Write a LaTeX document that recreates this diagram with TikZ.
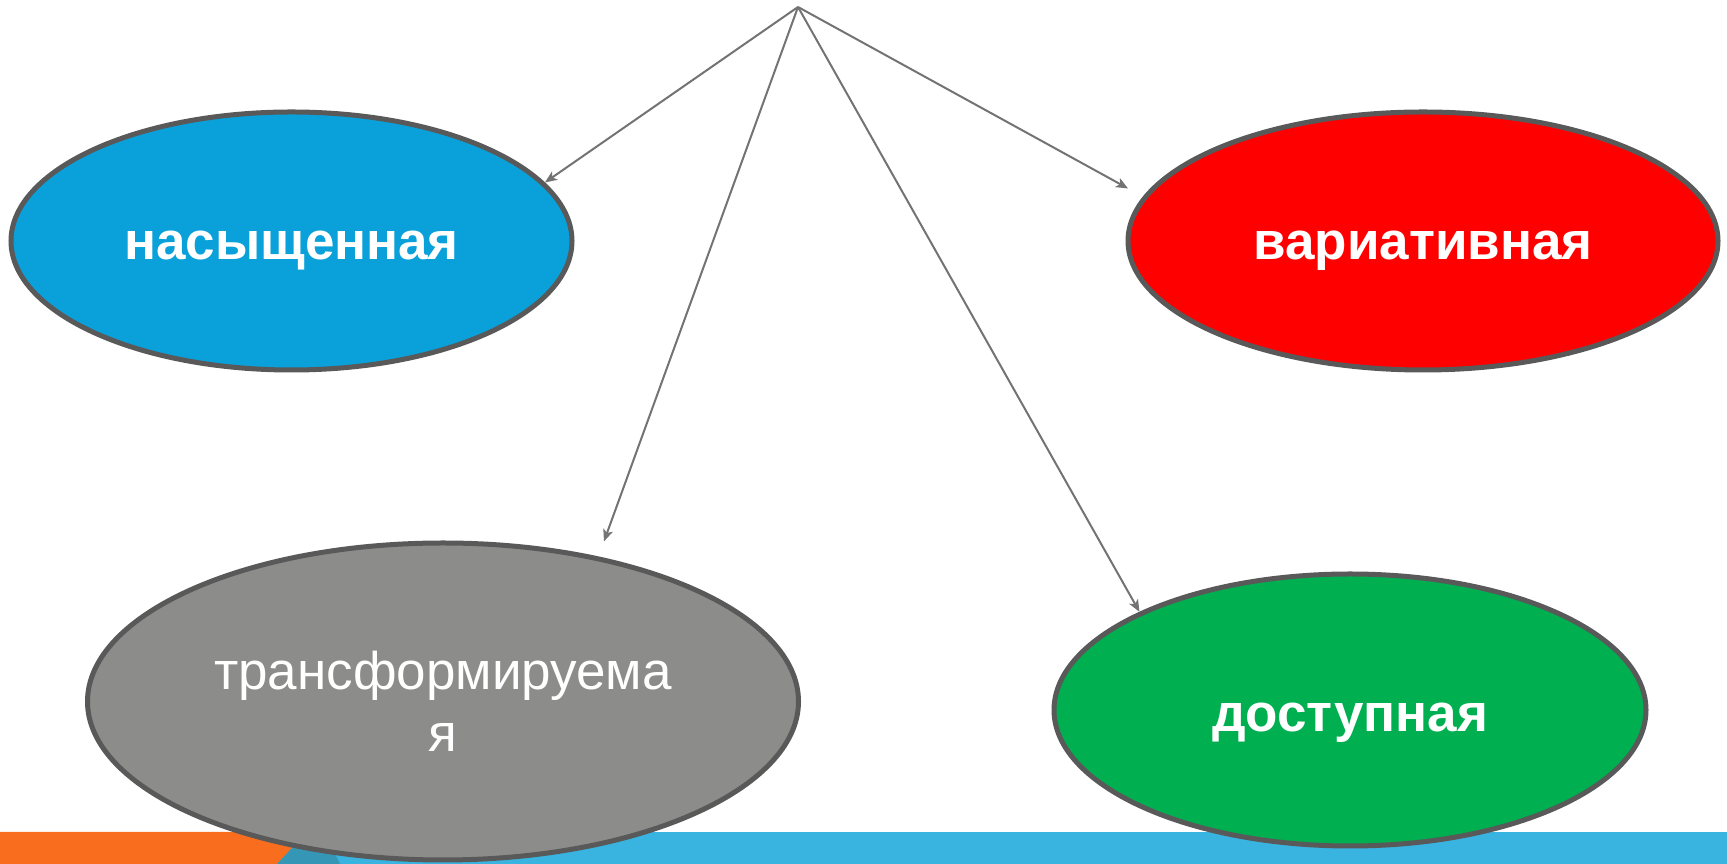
\documentclass[tikz,border=0pt]{standalone}
\usepackage{fontspec}
\setmainfont{Liberation Sans}
\usetikzlibrary{arrows.meta,shapes.geometric}

\definecolor{bubbleblue}{HTML}{0AA1DA}
\definecolor{bubblered}{HTML}{FF0000}
\definecolor{bubblegray}{HTML}{8C8C8A}
\definecolor{bubblegreen}{HTML}{00AF50}
\definecolor{rimgray}{HTML}{595959}
\definecolor{linkgray}{HTML}{737373}
\definecolor{stripblue}{HTML}{39B3E0}
\definecolor{striporange}{HTML}{F96D1E}
\definecolor{stripteal}{HTML}{3597B5}

\tikzset{
  bubble/.style={ellipse, draw=rimgray, line width=5pt, inner sep=0pt,
    text=white, font=\fontsize{53}{62}\selectfont},
  boldbubble/.style={bubble, font=\fontsize{53}{62}\selectfont\bfseries,
    text depth=10pt},
  link/.style={draw=linkgray, line width=2pt,
    -{Stealth[length=12pt,width=10pt,inset=3pt]}}
}

\begin{document}
\begin{tikzpicture}[x=1pt,y=1pt]
    \useasboundingbox (0,0) rectangle (1727,864);

    % Footer strip
    \fill[stripblue] (0,0) rectangle (1727,32);
    \fill[striporange] (0,0) -- (277,0) -- (307,32) -- (0,32) -- cycle;
    \fill[stripteal] (277,0) -- (340,0) -- (324,32) -- (307,32) -- cycle;

    % Bubbles
    \node[boldbubble, fill=bubbleblue, minimum width=561, minimum height=258, text height=48pt]
      (saturated) at (291.5,623) {насыщенная};
    \node[boldbubble, fill=bubblered, minimum width=590, minimum height=258, text height=48pt]
      (variable) at (1423,623) {вариативная};
    \node[bubble, fill=bubblegray, minimum width=711, minimum height=317, align=center]
      (transform) at (443,162.5) {трансформируема\\я};
    \node[boldbubble, fill=bubblegreen, minimum width=592, minimum height=272, text height=54pt]
      (access) at (1350,154) {доступная};

    % Links from the top
    \coordinate (apex) at (798,857);
    \draw[link] (apex) -- (saturated.13);
    \draw[link, shorten >=17pt] (apex) -- (variable.171);
    \draw[link, shorten >=16pt] (apex) -- (transform.43);
    \draw[link] (apex) -- (access.155);

  \end{tikzpicture}
\end{document}
